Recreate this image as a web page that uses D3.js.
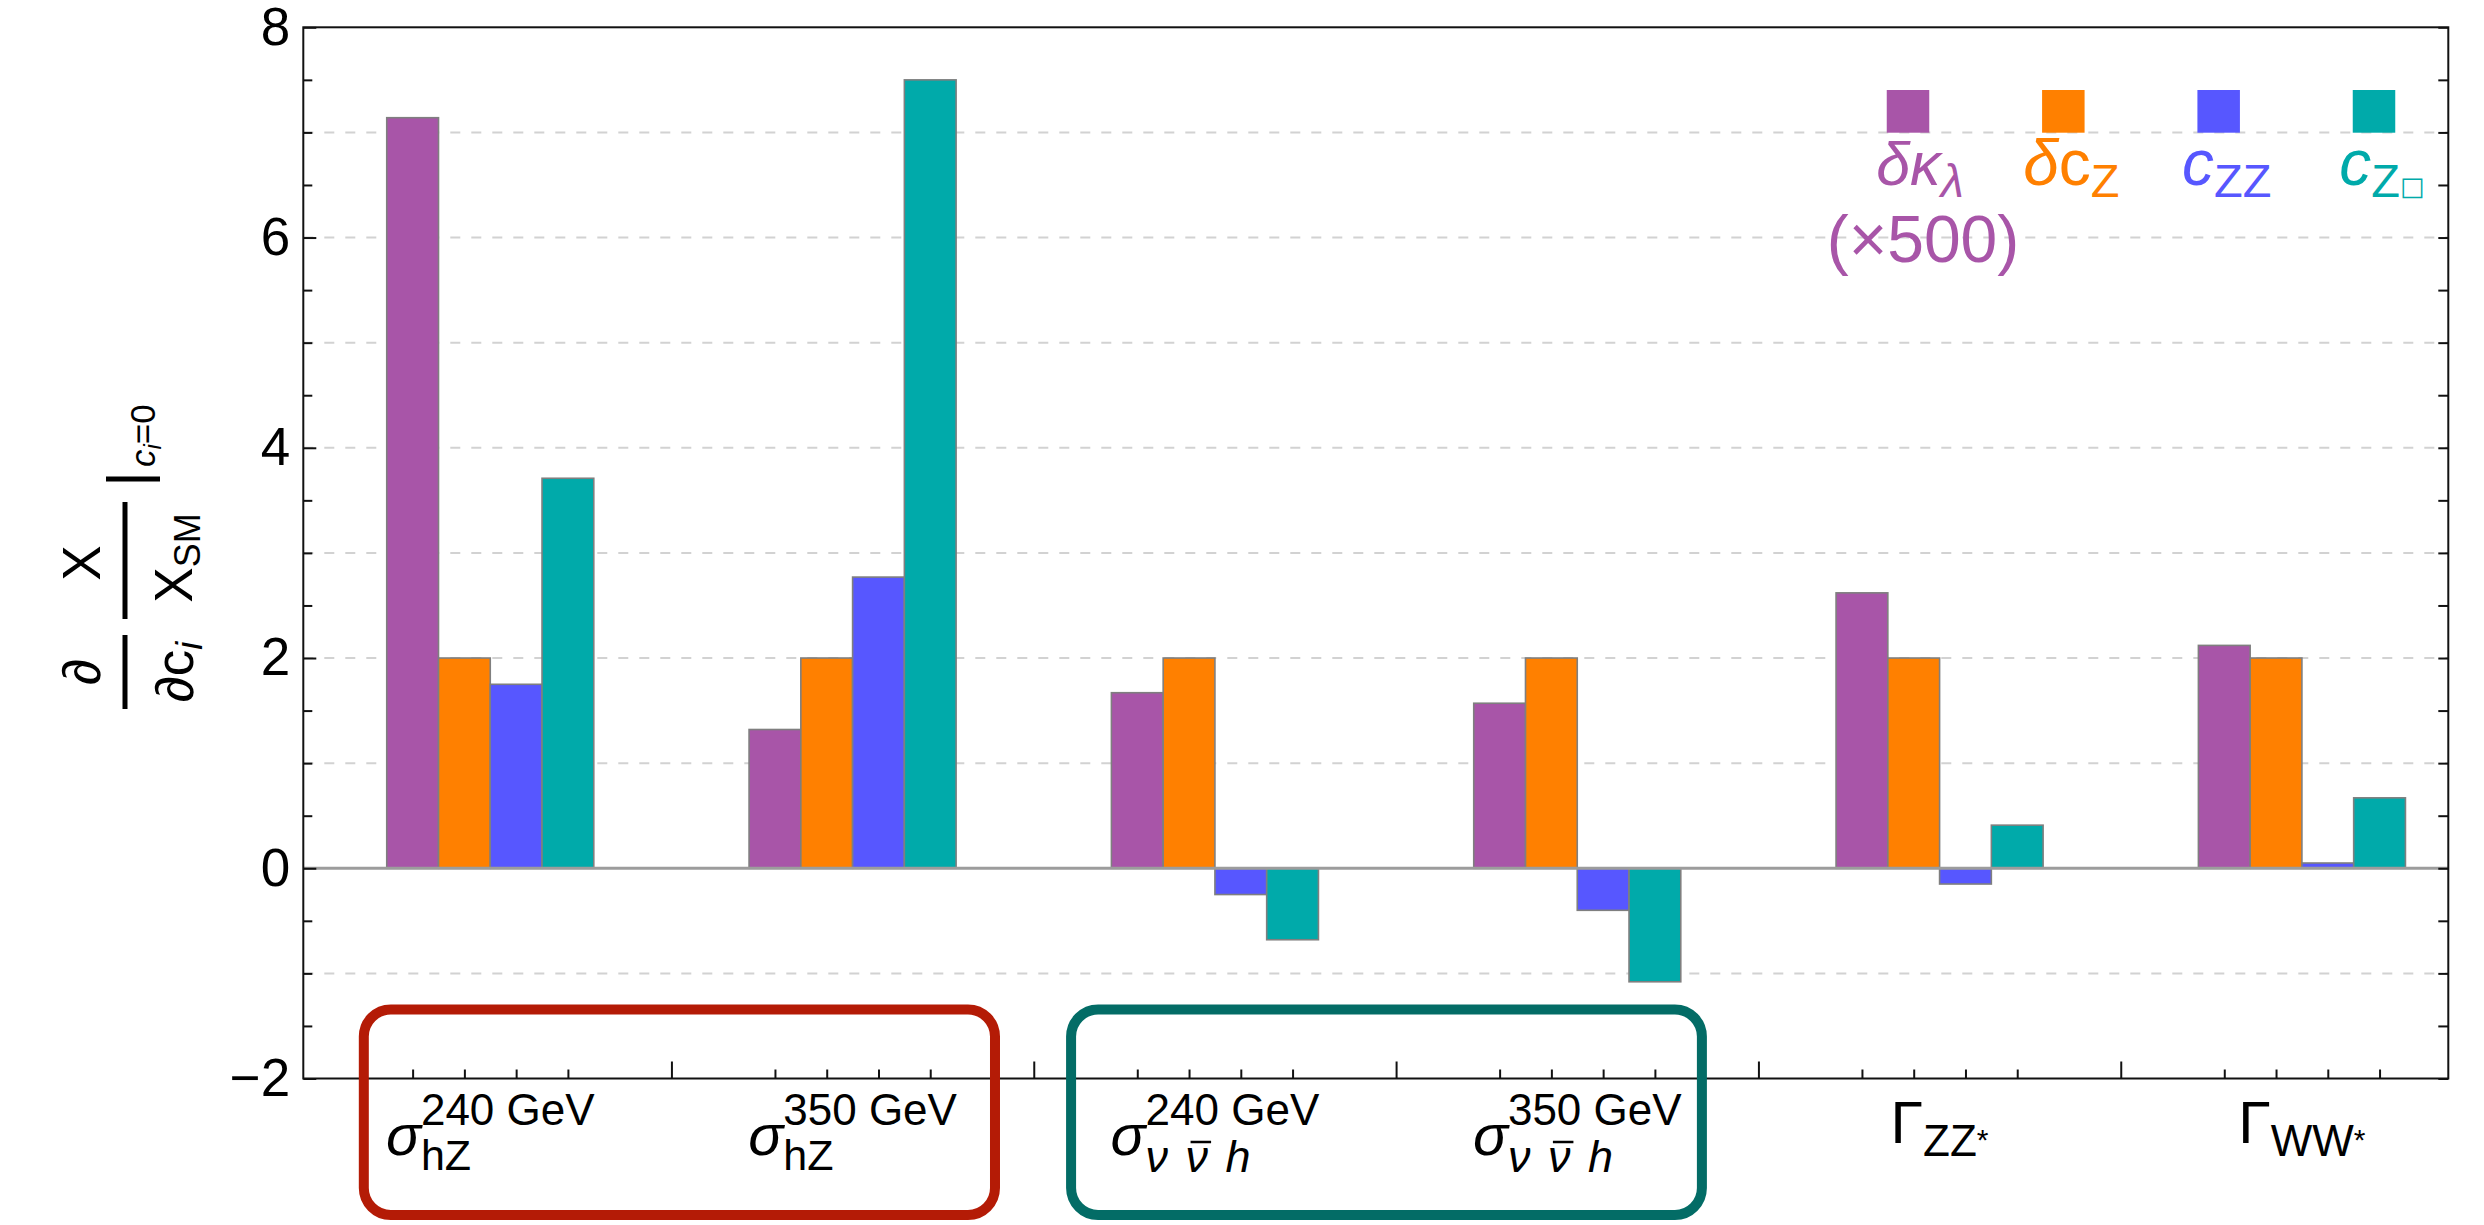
<!DOCTYPE html>
<html>
<head>
<meta charset="utf-8">
<script src="https://cdn.jsdelivr.net/npm/d3@7"></script>
<style>
  body { margin: 0; background: #fff; }
  svg { display: block; }
  text { font-family: "Liberation Sans", Arial, Helvetica, sans-serif; fill: #000; }
</style>
</head>
<body>
<svg id="chart" width="2484" height="1225"></svg>
<script>
// Sensitivities of each observable to the couplings, evaluated at c_i = 0
const categories = ["sigma_hZ_240", "sigma_hZ_350", "sigma_vvh_240", "sigma_vvh_350", "Gamma_ZZ", "Gamma_WW"];
const seriesKeys = ["dKappaLambda", "dCZ", "cZZ", "cZBox"];
const dKappaLambda = [7.14, 1.32, 1.67, 1.57, 2.62, 2.12];   // scaled by 500
const dCZ = [2.00, 2.00, 2.00, 2.00, 2.00, 2.00];
const cZZ = [1.75, 2.77, -0.25, -0.40, -0.15, 0.05];
const cZBox = [3.71, 7.50, -0.68, -1.08, 0.41, 0.67];
const yTickLabels = [-2, 0, 2, 4, 6, 8];
const seriesColors = ["#a855a8", "#ff8000", "#5757ff", "#00aaaa"];

const seriesValues = [dKappaLambda, dCZ, cZZ, cZBox];

const svg = d3.select("#chart");
const plot = { left: 303.3, right: 2448.3, top: 27.3, bottom: 1078.5 };

// x runs in "group" units: group g is centred on g, each bar is 1/7 of a group wide
const x = d3.scaleLinear().domain([-0.516, 5.404]).range([plot.left, plot.right]);
const y = d3.scaleLinear().domain([-2, 8]).range([plot.bottom, plot.top]);
const barW = 1 / 7;
const barOffset = k => (k - 1.5) * barW;

// dashed horizontal grid at the integers
const gridVals = d3.range(-1, 8).filter(v => v !== 0);
svg.append("g").selectAll("line").data(gridVals).join("line")
  .attr("x1", plot.left).attr("x2", plot.right)
  .attr("y1", d => y(d)).attr("y2", d => y(d))
  .attr("stroke", "#d2d2d2").attr("stroke-width", 2)
  .attr("stroke-dasharray", "10,11");

// bars
const barData = [];
categories.forEach((c, g) => {
  seriesKeys.forEach((s, k) => {
    barData.push({ g, k, v: seriesValues[k][g] });
  });
});
svg.append("g").selectAll("rect").data(barData).join("rect")
  .attr("x", d => x(d.g + barOffset(d.k) - barW / 2))
  .attr("width", d => x(d.g + barOffset(d.k) + barW / 2) - x(d.g + barOffset(d.k) - barW / 2))
  .attr("y", d => y(Math.max(0, d.v)))
  .attr("height", d => Math.abs(y(d.v) - y(0)))
  .attr("fill", d => seriesColors[d.k])
  .attr("stroke", "#7f7f7f").attr("stroke-width", 1.6);

// zero line
svg.append("line")
  .attr("x1", plot.left).attr("x2", plot.right)
  .attr("y1", y(0)).attr("y2", y(0))
  .attr("stroke", "#9c9c9c").attr("stroke-width", 3);

// axes (ticks point inward)
const halfSteps = d3.range(-2, 8.001, 0.5);
const leftMinor = d3.axisLeft(y).tickValues(halfSteps.filter(v => !yTickLabels.includes(v)))
  .tickSize(-9).tickFormat("");
const leftMajor = d3.axisLeft(y).tickValues(yTickLabels).tickSize(-13).tickPadding(13);
const rightTicks = d3.axisRight(y).tickValues(halfSteps).tickSize(-10).tickFormat("");
const barCentres = [];
categories.forEach((c, g) => seriesKeys.forEach((s, k) => barCentres.push(g + barOffset(k))));
const bottomMinor = d3.axisBottom(x).tickValues(barCentres).tickSize(-9).tickFormat("");
const bottomMajor = d3.axisBottom(x).tickValues(d3.range(0, categories.length - 1).map(g => g + 0.5))
  .tickSize(-17).tickFormat("");

function styleAxis(sel) {
  sel.select(".domain").remove();
  sel.selectAll(".tick line").attr("stroke", "#111").attr("stroke-width", 2);
  sel.selectAll(".tick text").attr("font-size", 53).attr("fill", "#000")
    .attr("font-family", '"Liberation Sans", Arial, sans-serif');
}
svg.append("g").attr("transform", `translate(${plot.left},0)`).call(leftMinor).call(styleAxis);
svg.append("g").attr("transform", `translate(${plot.left},0)`).call(leftMajor).call(styleAxis);
svg.append("g").attr("transform", `translate(${plot.right},0)`).call(rightTicks).call(styleAxis);
svg.append("g").attr("transform", `translate(0,${plot.bottom})`).call(bottomMinor).call(styleAxis);
svg.append("g").attr("transform", `translate(0,${plot.bottom})`).call(bottomMajor).call(styleAxis);

// frame
svg.append("rect")
  .attr("x", plot.left).attr("y", plot.top)
  .attr("width", plot.right - plot.left).attr("height", plot.bottom - plot.top)
  .attr("fill", "none").attr("stroke", "#111").attr("stroke-width", 2);

// ---- category labels ----
const labelLayer = svg.append("g");
function sigmaLabel(g, sup, subKind, sub) {
  const grp = labelLayer.append("g").attr("transform", `translate(${x(g)},0)`);
  const sig = grp.append("text").attr("y", 1155).attr("font-size", 58)
    .attr("font-style", "italic").text("σ");
  const supT = grp.append("text").attr("y", 1125).attr("font-size", 44).text(sup);
  let subT;
  if (subKind === "hZ") {
    subT = grp.append("text").attr("y", 1170).attr("font-size", 43).text(sub);
  } else {
    subT = grp.append("text").attr("y", 1172).attr("font-size", 45)
      .attr("font-style", "italic").attr("word-spacing", 5).text("ν ν h");
  }
  const ws = sig.node().getComputedTextLength();
  const wsup = supT.node().getComputedTextLength();
  const wsub = subT.node().getComputedTextLength();
  const total = ws + Math.max(wsup, wsub);
  const x0 = -total / 2;
  sig.attr("x", x0);
  supT.attr("x", x0 + ws);
  subT.attr("x", x0 + ws);
  if (subKind !== "hZ") {
    const n = subT.node();
    const a = n.getStartPositionOfChar(2).x;
    const b = n.getEndPositionOfChar(2).x;
    grp.append("line").attr("x1", a + 5).attr("x2", b + 3)
      .attr("y1", 1142).attr("y2", 1142)
      .attr("stroke", "#000").attr("stroke-width", 2.5);
  }
}
sigmaLabel(0, "240 GeV", "hZ", "hZ");
sigmaLabel(1, "350 GeV", "hZ", "hZ");
sigmaLabel(2, "240 GeV", "vvh");
sigmaLabel(3, "350 GeV", "vvh");

function gammaLabel(g, sub) {
  const grp = labelLayer.append("g").attr("transform", `translate(${x(g)},0)`);
  const G = grp.append("text").attr("y", 1143).attr("font-size", 59).text("Γ");
  const s = grp.append("text").attr("y", 1156).attr("font-size", 44).text(sub);
  const st = grp.append("text").attr("y", 1150).attr("font-size", 30).text("*");
  const wG = G.node().getComputedTextLength();
  const wS = s.node().getComputedTextLength();
  const wSt = st.node().getComputedTextLength();
  const x0 = -(wG + wS + wSt) / 2;
  G.attr("x", x0);
  s.attr("x", x0 + wG);
  st.attr("x", x0 + wG + wS);
}
gammaLabel(4, "ZZ");
gammaLabel(5, "WW");

// grouping boxes around the cross-section labels
const boxes = [
  { from: -0.349, to: 1.393, color: "#b41b06" },
  { from: 1.603, to: 3.344, color: "#036c66" }
];
svg.append("g").selectAll("rect").data(boxes).join("rect")
  .attr("x", d => x(d.from)).attr("width", d => x(d.to) - x(d.from))
  .attr("y", 1009.5).attr("height", 205.5)
  .attr("rx", 27).attr("ry", 27)
  .attr("fill", "none").attr("stroke", d => d.color).attr("stroke-width", 10);

// ---- legend ----
const legendX = d3.scalePoint().domain(seriesKeys).range([1908, 2374]);
const legend = svg.append("g");
legend.selectAll("rect").data(seriesKeys).join("rect")
  .attr("x", d => legendX(d) - 21.25).attr("y", 90)
  .attr("width", 42.5).attr("height", 42.7)
  .attr("fill", (d, i) => seriesColors[i]);

const legendText = [
  [{ t: "δκ", it: true }, { t: "λ", it: true, sub: true }],
  [{ t: "δ", it: true }, { t: "c", it: false }, { t: "Z", it: false, sub: true }],
  [{ t: "c", it: true }, { t: "ZZ", it: false, sub: true }],
  [{ t: "c", it: true }, { t: "Z", it: false, sub: true }, { t: "□", it: false, tiny: true }]
];
seriesKeys.forEach((key, i) => {
  const t = legend.append("text")
    .attr("x", legendX(key) + (i === 0 ? 12 : 8)).attr("y", 185)
    .attr("text-anchor", "middle").attr("font-size", i === 0 ? 61 : 64)
    .style("fill", seriesColors[i]);
  legendText[i].forEach(p => {
    const ts = t.append("tspan").text(p.t).style("fill", seriesColors[i])
      .attr("font-style", p.it ? "italic" : "normal");
    if (p.sub) { ts.attr("font-size", 47).attr("dy", 12); }
    if (p.tiny) { ts.attr("font-size", 26).attr("font-family", '"DejaVu Sans", sans-serif').attr("dy", -2); }
  });
});
legend.append("text")
  .attr("x", legendX("dKappaLambda") + 15).attr("y", 262)
  .attr("text-anchor", "middle").attr("font-size", 66)
  .style("fill", seriesColors[0]).text("(×500)");

// ---- y-axis label: (∂/∂c_i)(X/X_SM)|_{c_i=0}, written along the axis ----
const yl = svg.append("g").attr("transform", "translate(125,551) rotate(-90)");
const fracBar = (a, b) => yl.append("line").attr("x1", a).attr("x2", b)
  .attr("y1", 0).attr("y2", 0).attr("stroke", "#000").attr("stroke-width", 5);
fracBar(-158, -84);
fracBar(-68, 49);
yl.append("text").attr("x", -121).attr("y", -25).attr("text-anchor", "middle")
  .attr("font-size", 53).text("∂");
const den1 = yl.append("text").attr("x", -121).attr("y", 68).attr("text-anchor", "middle")
  .attr("font-size", 53);
den1.append("tspan").text("∂c");
den1.append("tspan").text("i").attr("font-style", "italic").attr("font-size", 36).attr("dy", 9);
yl.append("text").attr("x", -12).attr("y", -25).attr("text-anchor", "middle")
  .attr("font-size", 53).text("X");
const den2 = yl.append("text").attr("x", -7).attr("y", 67).attr("text-anchor", "middle")
  .attr("font-size", 53);
den2.append("tspan").text("X");
den2.append("tspan").text("SM").attr("font-size", 36).attr("dy", 8);
yl.append("line").attr("x1", 72).attr("x2", 72).attr("y1", -19).attr("y2", 35)
  .attr("stroke", "#000").attr("stroke-width", 5);
const ev = yl.append("text").attr("x", 84).attr("y", 30).attr("font-size", 35);
ev.append("tspan").text("c").attr("font-style", "italic");
ev.append("tspan").text("i").attr("font-style", "italic").attr("font-size", 24).attr("dy", 6);
ev.append("tspan").text("=0").attr("dy", -6);
</script>
</body>
</html>
